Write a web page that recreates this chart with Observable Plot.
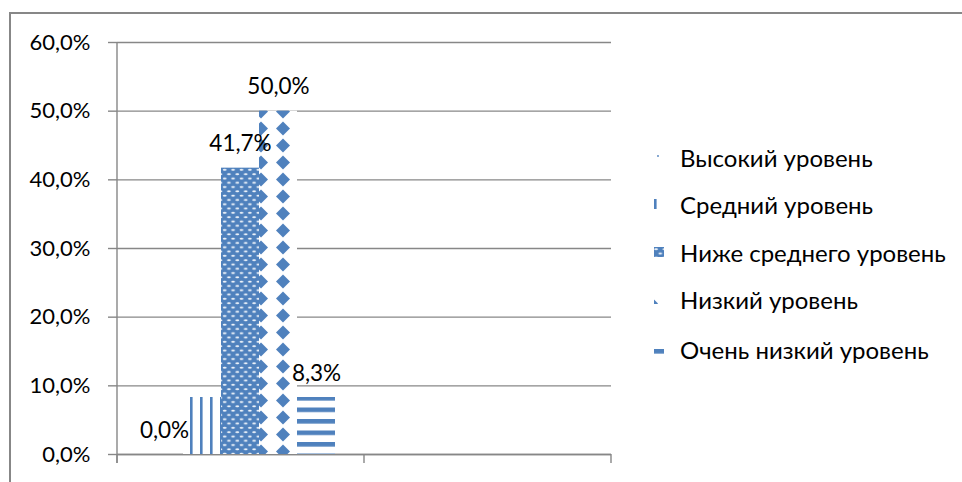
<!DOCTYPE html>
<html><head><meta charset="utf-8">
<script src="https://cdn.jsdelivr.net/npm/d3@7"></script>
<script src="https://cdn.jsdelivr.net/npm/@observablehq/plot@0.6"></script>
<style>
body{margin:0;background:#fff;overflow:hidden;width:962px;height:482px;position:relative;font-family:Lato,"Open Sans",sans-serif;}
#border{position:absolute;left:9px;top:12px;width:1000px;height:1000px;border:2px solid #878787;box-sizing:border-box;}
#chart{position:absolute;left:0;top:0;}
#legend{position:absolute;left:0;top:0;}
.li{position:absolute;left:654px;height:30px;display:flex;align-items:center;font-size:24px;color:#000;white-space:nowrap;}
.li svg{margin-right:16px;}
</style></head><body>
<svg width="0" height="0" style="position:absolute">
<defs>
<pattern id="pHigh" patternUnits="userSpaceOnUse" width="8" height="8">
<rect width="8" height="8" fill="#fff"/><circle cx="4" cy="4" r="0.9" fill="#4F81BD"/>
</pattern>
<pattern id="pMid" patternUnits="userSpaceOnUse" width="10" height="6">
<rect width="10" height="6" fill="#fff"/><rect x="0" width="2.6" height="6" fill="#4F81BD"/>
</pattern>
<pattern id="pBelow" patternUnits="userSpaceOnUse" width="8.4" height="8.6">
<rect width="8.4" height="8.6" fill="#4F81BD"/>
<ellipse cx="2.1" cy="2.1" rx="1.9" ry="0.95" fill="#F2F6FB"/>
<ellipse cx="6.3" cy="6.4" rx="1.9" ry="0.95" fill="#F2F6FB"/>
</pattern>
<pattern id="pLow" patternUnits="userSpaceOnUse" x="250" y="1" width="22" height="17">
<rect width="22" height="17" fill="#fff"/>
<path d="M11,1.5 L18,8.5 L11,15.5 L4,8.5 Z" fill="#4F81BD"/>
</pattern>
<pattern id="pVeryLow" patternUnits="userSpaceOnUse" x="0" y="5" width="10" height="11.5">
<rect width="10" height="11.5" fill="#fff"/><rect width="10" height="4.6" fill="#4F81BD"/>
</pattern>
</defs></svg>
<div id="border"></div>
<div id="chart"></div>
<div id="legend"></div>
<script>
const groups = ["1", "2"];
const levels = ["Высокий уровень", "Средний уровень", "Ниже среднего уровень", "Низкий уровень", "Очень низкий уровень"];
const values = [0.0, 0.083, 0.417, 0.50, 0.083];
const labels = ["0,0%", null, "41,7%", "50,0%", "8,3%"];
const yTicks = [0, 0.1, 0.2, 0.3, 0.4, 0.5, 0.6];
const patterns = ["url(#pHigh)", "url(#pMid)", "url(#pBelow)", "url(#pLow)", "url(#pVeryLow)"];

const data = levels.map((l, i) => ({group: groups[0], level: l, value: values[i], label: labels[i], fill: patterns[i]}));
const fmt = d => (d * 100).toFixed(1).replace(".", ",") + "%";
const gray = "#878787";
const font = "Lato, 'Open Sans', sans-serif";

const chart = Plot.plot({
  width: 962, height: 482,
  marginLeft: 117, marginRight: 351, marginTop: 42, marginBottom: 28,
  style: {fontFamily: font, fontSize: "22px", color: "#000", background: "transparent"},
  fx: {domain: groups, padding: 0, axis: null},
  x: {domain: levels, padding: 0, insetLeft: 26, insetRight: 28, axis: null},
  y: {domain: [0, 0.6], axis: null, label: null},
  color: {type: "identity"},
  marks: [
    Plot.ruleY(yTicks, {stroke: gray, strokeWidth: 1.4}),
    Plot.ruleY(groups, {fx: d => d, y: 0, stroke: gray, strokeWidth: 1.4}),
    Plot.barY(data, {fx: "group", x: "level", y: "value", fill: "fill"}),
    Plot.text(data.filter(d => d.label), {fx: "group", x: "level", y: "value", text: "label", dy: -24, fontSize: 22.5, fill: "#000"}),
    Plot.axisY(yTicks, {tickSize: 9, tickPadding: 18, tickFormat: fmt, fontSize: 22, stroke: gray, strokeWidth: 1.4, fill: "#000", label: null})
  ]
});
document.getElementById("chart").appendChild(chart);

// axis line and category boundary ticks, from the plot's scales
const fx = chart.scale("fx"), y = chart.scale("y");
const svg = d3.select(chart);
const y0 = y.apply(0), yTop = y.apply(0.6);
const xs = groups.map(g => fx.apply(g)).concat([fx.apply(groups[groups.length - 1]) + fx.bandwidth]);
const g = svg.append("g").attr("stroke", gray).attr("stroke-width", 1.4);
g.append("line").attr("x1", xs[0]).attr("x2", xs[0]).attr("y1", yTop).attr("y2", y0 + 9);
xs.forEach(x => g.append("line").attr("x1", x).attr("x2", x).attr("y1", y0).attr("y2", y0 + 9));

// legend
const legendTops = [142, 189, 237, 284, 334];
const legend = document.getElementById("legend");
levels.forEach((l, i) => {
  const div = document.createElement("div");
  div.className = "li";
  div.style.top = legendTops[i] + "px";
  div.innerHTML = `<svg width="10" height="10"><rect width="10" height="10" fill="${patterns[i]}"/></svg><span>${l}</span>`;
  legend.appendChild(div);
});
</script>
</body></html>
